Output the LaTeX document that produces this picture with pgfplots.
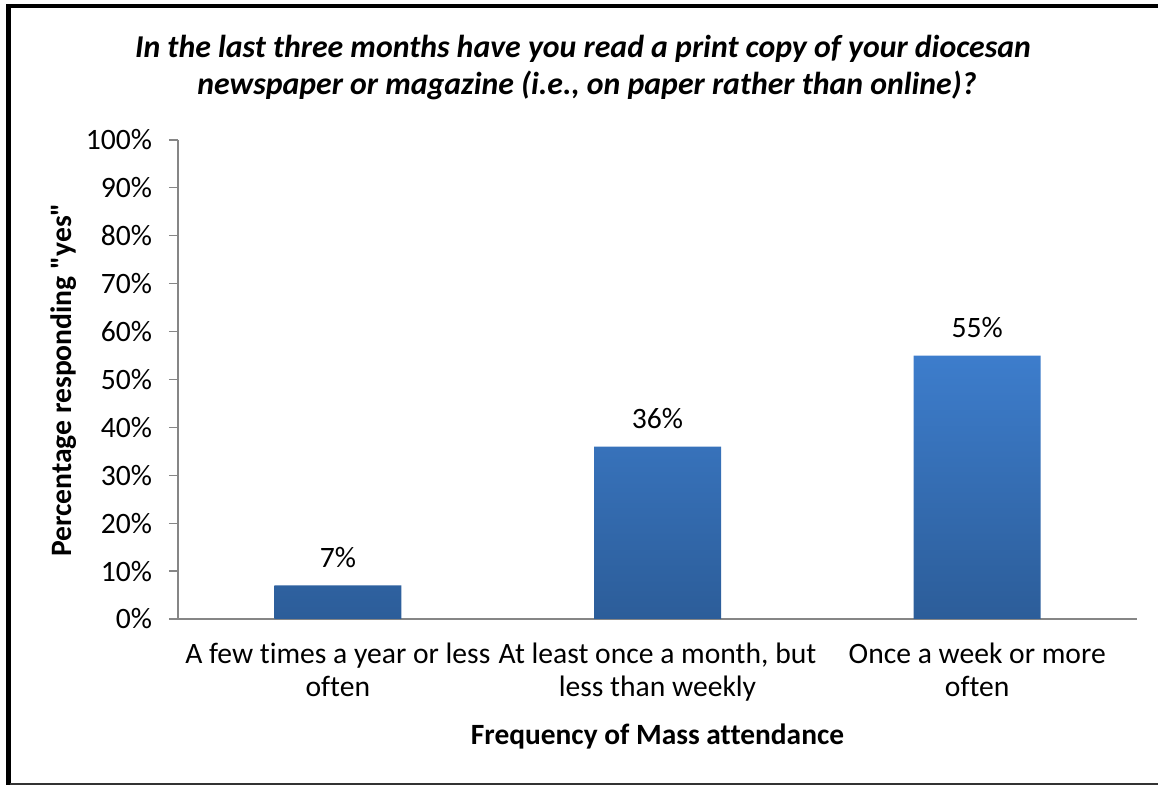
\documentclass[border=0pt]{standalone}
\usepackage{fontspec}
\setmainfont{Carlito}[Ligatures={TeXOff,CommonOff}]
\usepackage{pgfplots}
\pgfplotsset{compat=1.18}

\definecolor{bartop}{HTML}{3D7DCC}
\definecolor{barbot}{HTML}{2C5D99}
\definecolor{axisgray}{HTML}{868686}

\begin{document}
\begin{tikzpicture}
% page size: 1158 x 785 px at 0.5pt per px
\useasboundingbox (0,0) rectangle (579pt,392.5pt);

% frame: thick left and top, thin bottom
\draw[line width=2.5pt] (4.25pt,0pt) -- (4.25pt,389.5pt);
\draw[line width=2pt] (3pt,389.5pt) -- (579pt,389.5pt);
\draw[line width=0.6pt, black!80] (5pt,0.5pt) -- (579pt,0.5pt);

\begin{axis}[
    scale only axis,
    width=479.5pt, height=239.5pt,
    at={(89pt,83pt)}, anchor=south west,
    xmin=-0.5, xmax=2.5,
    ymin=0, ymax=100,
    axis x line*=bottom,
    axis y line*=left,
    axis line style={axisgray, line width=0.6pt},
    ytick={0,10,...,100},
    yticklabels={0\%,10\%,20\%,30\%,40\%,50\%,60\%,70\%,80\%,90\%,100\%},
    y tick label style={font=\fontsize{14.8}{17}\selectfont, xshift=-5pt},
    ytick style={axisgray, line width=0.6pt},
    ytick align=outside,
    major tick length=4.5pt,
    xtick={0,1,2},
    xticklabels={{A few times a year or less\\often},
                 {At least once a month, but\\less than weekly},
                 {Once a week or more\\often}},
    x tick label style={font=\fontsize{14.8}{16.5}\selectfont, align=center, yshift=-4pt},
    xtick style={draw=none},
    extra x ticks={-0.5,0.5,1.5,2.5},
    extra x tick labels={},
    extra x tick style={tick align=outside, major tick length=5pt,
        tick style={axisgray, line width=0.6pt}},
    ybar,
    bar width=63.5pt,
    nodes near coords={\pgfmathprintnumber[assume math mode=true]{\pgfplotspointmeta}\%},
    nodes near coords style={font=\fontsize{14.8}{17}\selectfont, yshift=5.5pt},
]
\addplot[draw=none, top color=bartop, bottom color=barbot] coordinates {
    (0,7) (1,36) (2,55)
};
\end{axis}

% title
\node[anchor=base, font=\fontsize{15.9}{18}\selectfont\bfseries\itshape]
    at (291.5pt,363.5pt) {In the last three months have you read a print copy of your diocesan};
\node[anchor=base, font=\fontsize{15.9}{18}\selectfont\bfseries\itshape]
    at (293.5pt,345pt) {newspaper or magazine (i.e., on paper rather than online)?};

% axis titles
\node[anchor=base, font=\fontsize{14.7}{17}\selectfont\bfseries]
    at (328.75pt,20pt) {Frequency of Mass attendance};
\node[anchor=base, rotate=90, font=\fontsize{14.8}{17}\selectfont\bfseries]
    at (35.5pt,202.5pt) {Percentage responding "yes"};
\end{tikzpicture}
\end{document}
